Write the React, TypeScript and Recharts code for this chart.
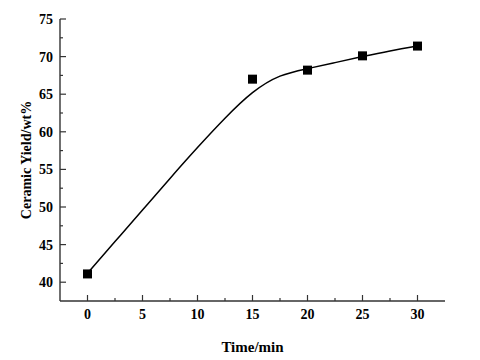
import React from 'react';
import { ComposedChart, Line, Scatter, XAxis, YAxis, Label } from 'recharts';

// measured points
const times = [0, 15, 20, 25, 30];
const yields = [41.1, 67.0, 68.2, 70.1, 71.4];

// fitted curve
const curveTimes = [0, 2.5, 5, 7.5, 10, 12.5, 15, 17.5, 20, 22.5, 25, 27.5, 30];
const curveYields = [41.2, 45.4, 49.6, 53.8, 57.9, 61.8, 65.2, 67.4, 68.4, 69.2, 70.0, 70.75, 71.4];

const xTicks = [0, 2.5, 5, 7.5, 10, 12.5, 15, 17.5, 20, 22.5, 25, 27.5, 30];
const yTicks = [40, 42.5, 45, 47.5, 50, 52.5, 55, 57.5, 60, 62.5, 65, 67.5, 70, 72.5, 75];

const points = times.map((t, i) => ({ x: t, y: yields[i] }));
const curve = curveTimes.map((t, i) => ({ x: t, y: curveYields[i] }));

const FONT = '"Liberation Serif", "Times New Roman", serif';
const AXIS = '#333';
const XM = 8;
const YM = 7;

const XTick = (props: any) => {
  const { x, y, payload } = props;
  const major = payload.value % 5 === 0;
  const axisY = y - XM;
  return (
    <g>
      <line x1={x} x2={x} y1={axisY} y2={axisY - (major ? 6 : 3)} stroke={AXIS} strokeWidth={1.2} />
      {major && (
        <text x={x} y={y} dy="0.74em" textAnchor="middle" fontFamily={FONT} fontWeight="bold" fontSize={14} fill="#000">
          {payload.value}
        </text>
      )}
    </g>
  );
};

const YTick = (props: any) => {
  const { x, y, payload } = props;
  const major = payload.value % 5 === 0;
  const axisX = x + YM;
  return (
    <g>
      <line x1={axisX} x2={axisX + (major ? 6 : 3)} y1={y} y2={y} stroke={AXIS} strokeWidth={1.2} />
      {major && (
        <text x={x} y={y} dy="0.36em" textAnchor="end" fontFamily={FONT} fontWeight="bold" fontSize={14} fill="#000">
          {payload.value}
        </text>
      )}
    </g>
  );
};

const Square = (props: any) => {
  const { cx, cy } = props;
  const s = 9;
  return <rect x={cx - s / 2} y={cy - s / 2} width={s} height={s} fill="#000" />;
};

export default function App() {
  return (
    <div style={{ position: 'absolute', left: 0, top: 0, background: '#fff' }}>
      <ComposedChart width={480} height={360} margin={{ top: 19, right: 35, bottom: 0, left: 0 }}>
        <XAxis
          dataKey="x"
          type="number"
          domain={[-2.5, 32.5]}
          ticks={xTicks}
          interval={0}
          height={59}
          tickSize={0}
          tickMargin={XM}
          tickLine={false}
          tick={<XTick />}
          axisLine={{ stroke: AXIS, strokeWidth: 1.4 }}
          allowDataOverflow
        >
          <Label
            value="Time/min"
            position="insideBottom"
            offset={8}
            style={{ fontFamily: FONT, fontWeight: 'bold', fontSize: 15, fill: '#000' }}
          />
        </XAxis>
        <XAxis xAxisId="top" orientation="top" type="number" domain={[-2.5, 32.5]} height={0} tick={false} tickLine={false} axisLine={{ stroke: AXIS, strokeWidth: 1.2 }} />
        <YAxis
          type="number"
          domain={[37.5, 75]}
          ticks={yTicks}
          interval={0}
          width={60}
          tickSize={0}
          tickMargin={YM}
          tickLine={false}
          tick={<YTick />}
          axisLine={{ stroke: AXIS, strokeWidth: 1.4 }}
          allowDataOverflow
        >
          <Label
            value="Ceramic Yield/wt%"
            angle={-90}
            position="insideLeft"
            offset={26}
            style={{ fontFamily: FONT, fontWeight: 'bold', fontSize: 14, fill: '#000', textAnchor: 'middle' }}
          />
        </YAxis>
        <YAxis yAxisId="right" orientation="right" type="number" domain={[37.5, 75]} width={0} tick={false} tickLine={false} axisLine={{ stroke: AXIS, strokeWidth: 1.2 }} />
        <Line data={curve} dataKey="y" type="natural" stroke="#000" strokeWidth={1.5} dot={false} isAnimationActive={false} />
        <Scatter data={points} dataKey="y" shape={<Square />} isAnimationActive={false} />
      </ComposedChart>
    </div>
  );
}
